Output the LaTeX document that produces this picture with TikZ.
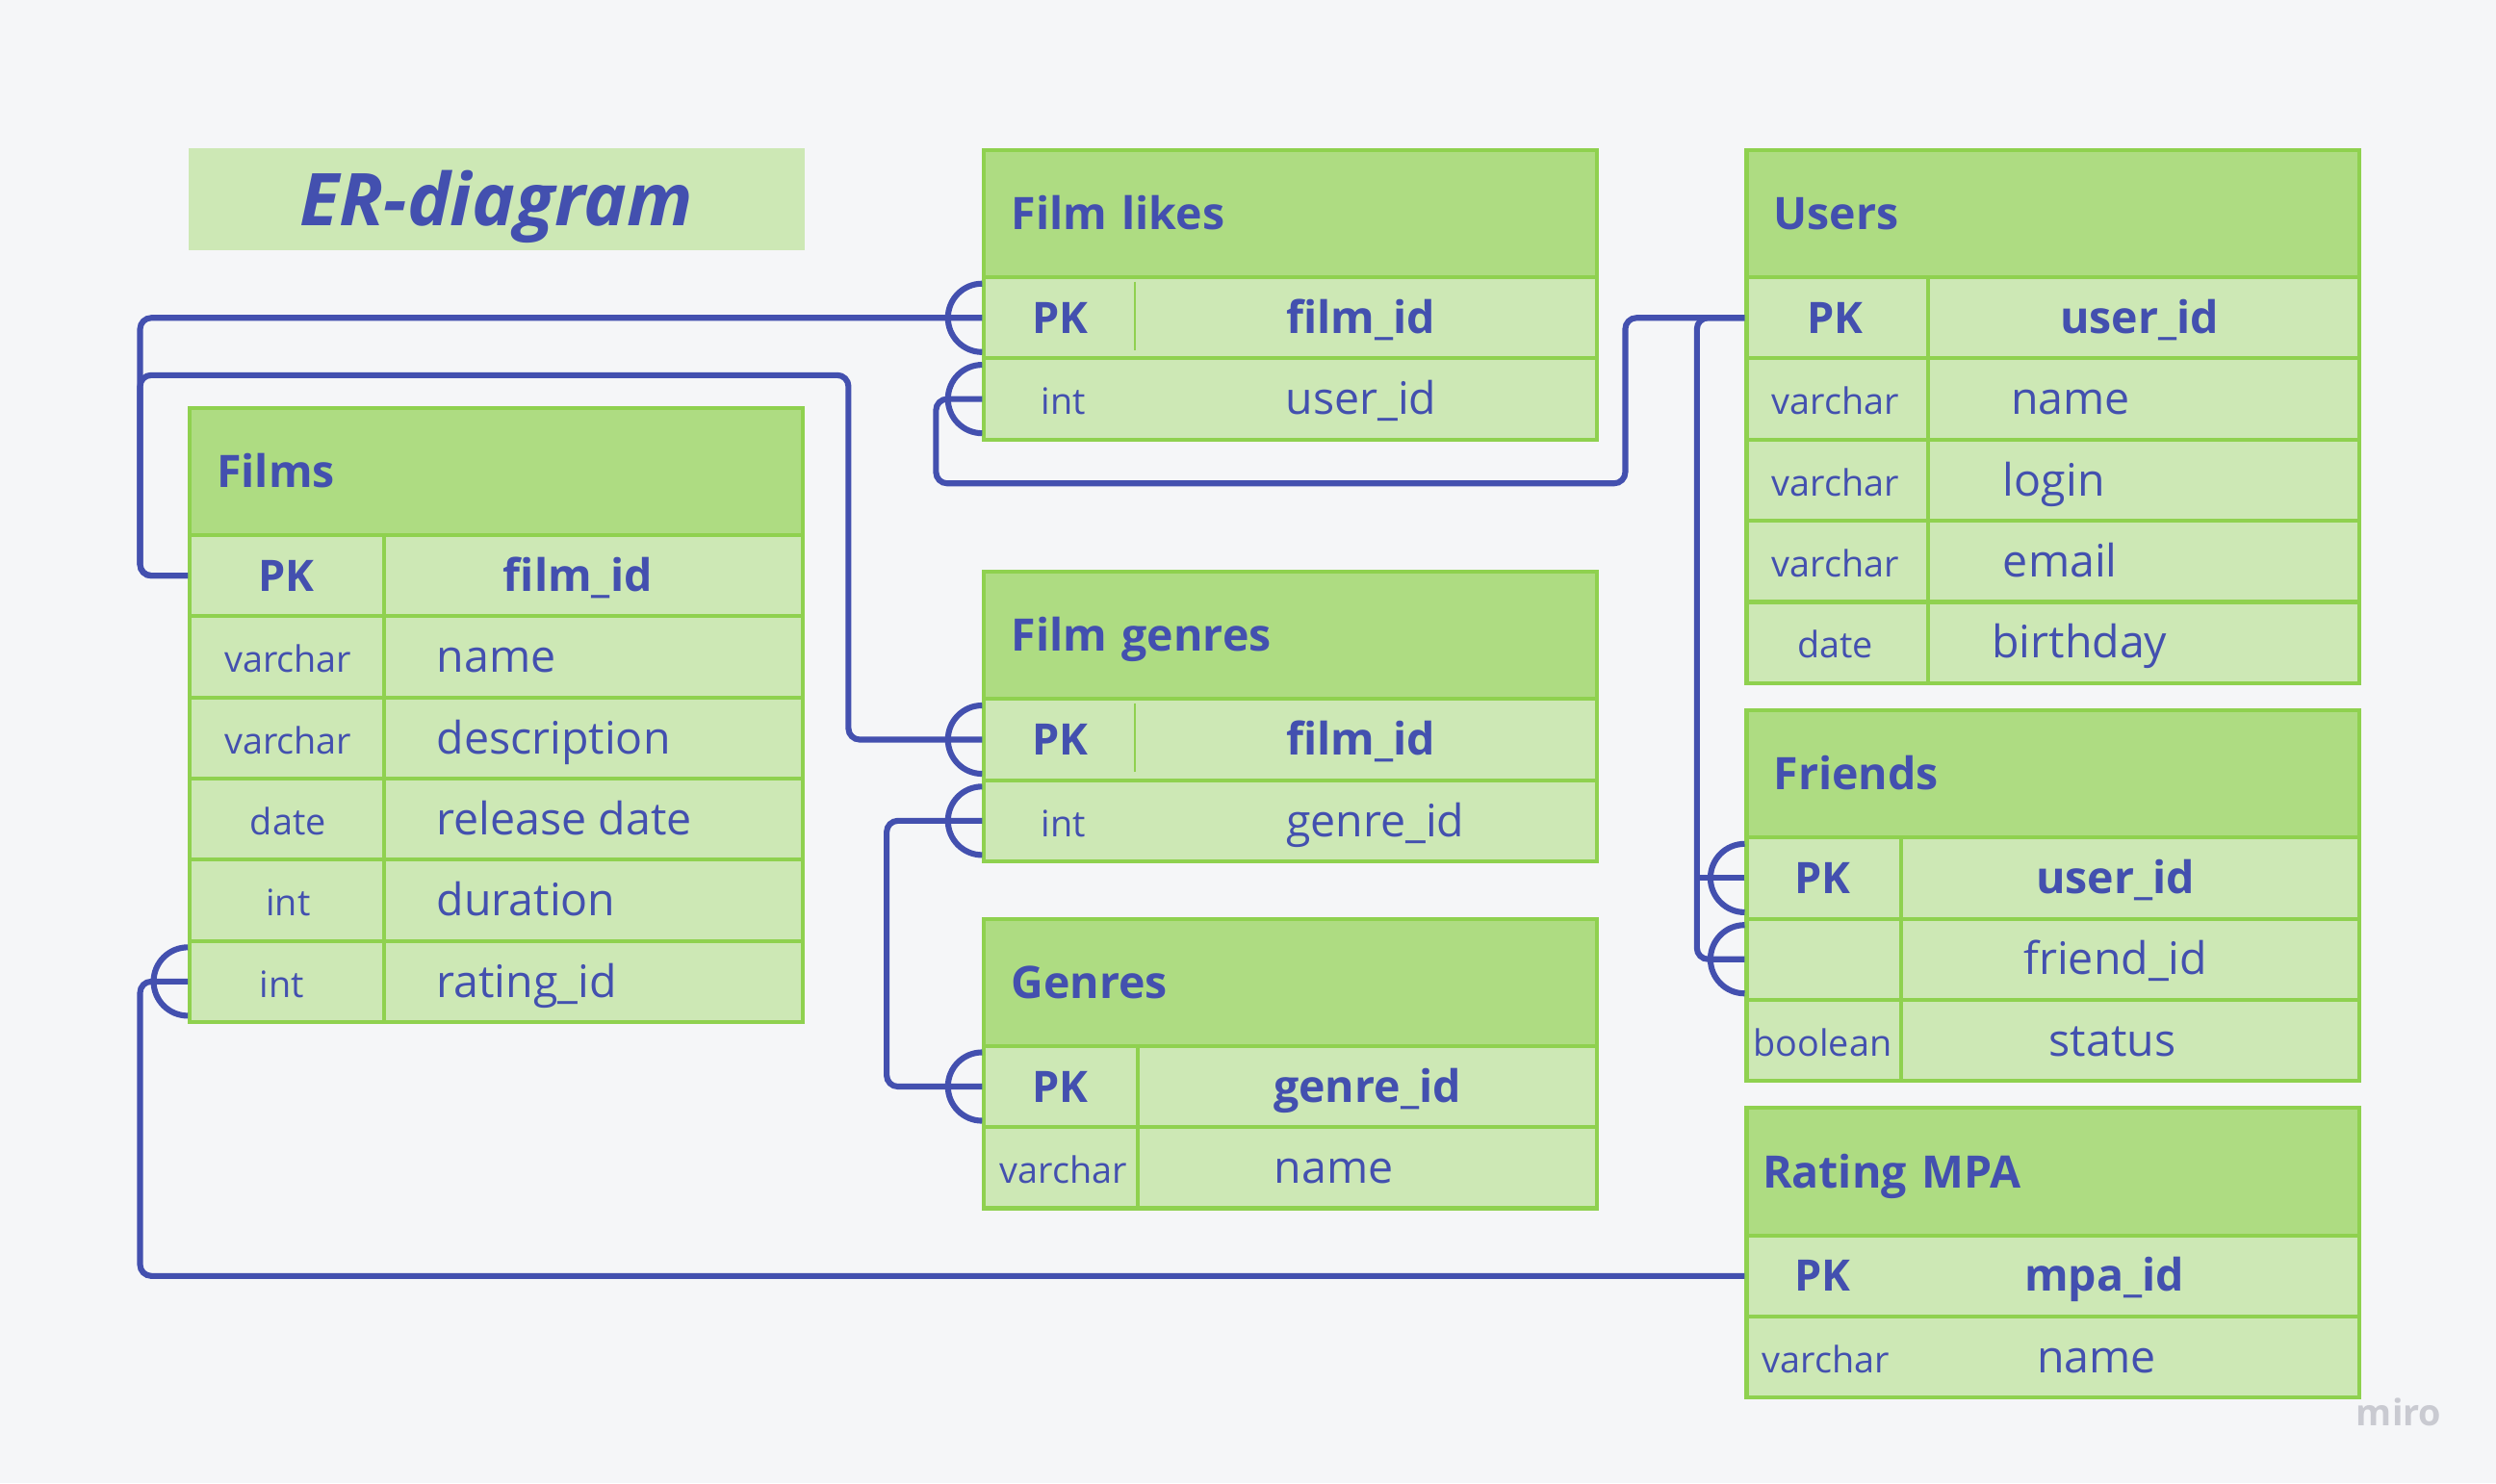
\documentclass[tikz,border=0pt]{standalone}
\usepackage{fontspec}
\setmainfont{Open Sans}
\usepackage{tikz}

\definecolor{ink}{HTML}{4350AF}
\definecolor{grn}{HTML}{8FD14F}
\definecolor{headfill}{HTML}{AEDC82}
\definecolor{rowfill}{HTML}{CDE8B5}
\definecolor{paper}{HTML}{F5F6F8}
\definecolor{wmark}{HTML}{C9CAD1}

\tikzset{
  hdr/.style={draw=grn, fill=headfill, line width=1.4pt, anchor=north west,
    minimum height=1.6cm, text width=7.02cm, inner xsep=0.34cm, inner ysep=0pt,
    align=left, text=ink, font=\fontsize{16}{19}\selectfont\bfseries,
    text height=11.4pt, text depth=0pt},
  titlebox/.style={fill=rowfill, anchor=north west, minimum width=7.74cm,
    minimum height=1.28cm, inner sep=0pt, text=ink,
    font=\fontsize{26}{30}\selectfont\bfseries\itshape,
    text height=18.8pt, text depth=0pt},
  erow/.style={draw=grn, fill=rowfill, line width=1.4pt, anchor=north west,
    minimum width=7.7cm, minimum height=1.02cm, inner sep=0pt},
  ttype/.style={anchor=base, inner sep=0pt, text=ink, font=\fontsize{13}{15}\selectfont},
  tpk/.style={ttype, font=\fontsize{15.5}{18}\selectfont\bfseries},
  tfield/.style={ttype, font=\fontsize{16}{19}\selectfont},
  tfieldw/.style={tfield, anchor=base west},
  tfieldpk/.style={tfield, font=\fontsize{16}{19}\selectfont\bfseries},
  cellline/.style={draw=grn, line width=1.4pt},
  thinline/.style={draw=grn, line width=0.6pt},
  relline/.style={draw=ink, line width=2.1pt, rounded corners=4pt},
  crow/.pic={\draw[relline] (0pt,0.43cm) arc (90:270:0.43cm);}
}

% one table row: name, left x, top y, type style, type x, type, field style, field x, field
\newcommand{\erdrow}[9]{%
  \node[erow] (#1) at (#2,#3) {};
  \node[#4] (#1t) at (#5,#3+36.5) {#6};
  \node[#7] (#1f) at (#8,#3+36.5) {#9};}

\begin{document}
\begin{tikzpicture}[x=0.02cm, y=-0.02cm]
        \fill[paper] (0,0) rectangle (1568,932);

        \node[titlebox] (title) at (118,93) {ER-diagram};

        % Films
        \node[hdr] (films) at (118,255) {Films};
        \erdrow{films1}{118}{335}{tpk}{180}{PK}{tfieldpk}{363}{film\_id}
        \erdrow{films2}{118}{386}{ttype}{181}{varchar}{tfieldw}{274}{name}
        \erdrow{films3}{118}{437}{ttype}{181}{varchar}{tfieldw}{274}{description}
        \erdrow{films4}{118}{488}{ttype}{181}{date}{tfieldw}{274}{release date}
        \erdrow{films5}{118}{539}{ttype}{181}{int}{tfieldw}{274}{duration}
        \erdrow{films6}{118}{590}{ttype}{177}{int}{tfieldw}{274}{rating\_id}
        \draw[cellline] (241,335) -- (241,641);

        % Film likes
        \node[hdr] (fl) at (617,93) {Film likes};
        \erdrow{fl1}{617}{173}{tpk}{666}{PK}{tfieldpk}{855}{film\_id}
        \erdrow{fl2}{617}{224}{ttype}{668}{int}{tfield}{855}{user\_id}
        \draw[thinline] (713,177) -- (713,220);

        % Users
        \node[hdr] (us) at (1096,93) {Users};
        \erdrow{us1}{1096}{173}{tpk}{1153}{PK}{tfieldpk}{1344}{user\_id}
        \erdrow{us2}{1096}{224}{ttype}{1153}{varchar}{tfieldw}{1263}{name}
        \erdrow{us3}{1096}{275}{ttype}{1153}{varchar}{tfieldw}{1258}{login}
        \erdrow{us4}{1096}{326}{ttype}{1153}{varchar}{tfieldw}{1258}{email}
        \erdrow{us5}{1096}{377}{ttype}{1153}{date}{tfieldw}{1251}{birthday}
        \draw[cellline] (1211,173) -- (1211,428);

        % Film genres
        \node[hdr] (fg) at (617,358) {Film genres};
        \erdrow{fg1}{617}{438}{tpk}{666}{PK}{tfieldpk}{855}{film\_id}
        \erdrow{fg2}{617}{489}{ttype}{668}{int}{tfield}{864}{genre\_id}
        \draw[thinline] (713,442) -- (713,485);

        % Genres
        \node[hdr] (gn) at (617,576) {Genres};
        \erdrow{gn1}{617}{656}{tpk}{666}{PK}{tfieldpk}{859}{genre\_id}
        \erdrow{gn2}{617}{707}{ttype}{668}{varchar}{tfield}{838}{name}
        \draw[cellline] (715,656) -- (715,758);

        % Friends
        \node[hdr] (fr) at (1096,445) {Friends};
        \erdrow{fr1}{1096}{525}{tpk}{1145}{PK}{tfieldpk}{1329}{user\_id}
        \erdrow{fr2}{1096}{576}{ttype}{1145}{}{tfield}{1329}{friend\_id}
        \erdrow{fr3}{1096}{627}{ttype}{1145}{boolean}{tfield}{1327}{status}
        \draw[cellline] (1194,525) -- (1194,678);

        % Rating MPA
        \node[hdr, inner xsep=0.2cm, text width=7.3cm] (mpa) at (1096,695) {Rating MPA};
        \erdrow{mpa1}{1096}{775}{tpk}{1145}{PK}{tfieldpk}{1322}{mpa\_id}
        \erdrow{mpa2}{1096}{826}{ttype}{1147}{varchar}{tfield}{1317}{name}

        % relations
        \draw[relline] (films1.west) -- ++(-30,0) |- (fl1.west);
        \draw[relline] (films1.west) -- ++(-30,0) |- ++(445,-126) |- (fg1.west);
        \draw[relline] (us1.west) -- ++(-75,0) |- ++(-433,104) |- (fl2.west);
        \draw[relline] (us1.west) -- ++(-30,0) |- (fr2.west);
        \draw[relline] (fr1.west) -- ++(-30,0);
        \draw[relline] (gn1.west) -- ++(-60,0) |- (fg2.west);
        \draw[relline] (films6.west) -- ++(-30,0) |- (mpa1.west);

        \pic at (fl1.west) {crow};
        \pic at (fl2.west) {crow};
        \pic at (fg1.west) {crow};
        \pic at (fg2.west) {crow};
        \pic at (gn1.west) {crow};
        \pic at (fr1.west) {crow};
        \pic at (fr2.west) {crow};
        \pic at (films6.west) {crow};

        \node[text=wmark, font=\fontsize{13}{15}\selectfont\bfseries] (miro) at (1507,887) {miro};
\end{tikzpicture}
\end{document}
